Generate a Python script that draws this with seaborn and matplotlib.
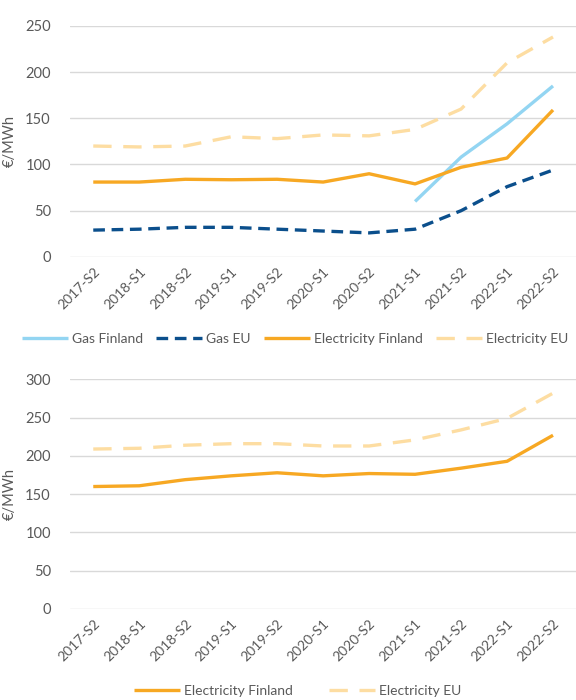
import numpy as np
import pandas as pd
import matplotlib
matplotlib.use("Agg")
import matplotlib.pyplot as plt
import seaborn as sns

periods = ["2017-S2", "2018-S1", "2018-S2", "2019-S1", "2019-S2", "2020-S1",
           "2020-S2", "2021-S1", "2021-S2", "2022-S1", "2022-S2"]

# top panel
gas_fi = [np.nan, np.nan, np.nan, np.nan, np.nan, np.nan, np.nan, 60, 108, 144, 185]
gas_eu = [29, 30, 32, 32, 30, 28, 26, 30, 50, 76, 94]
elec_fi = [81, 81, 84, 83.5, 84, 81, 90, 79, 97, 107, 159]
elec_eu = [120, 119, 120, 130, 128, 132, 131, 138, 160, 210, 238]

# bottom panel
elec_fi2 = [160, 161, 169, 174, 178, 174, 177, 176, 184, 193, 227]
elec_eu2 = [209, 210, 214, 216, 216, 213, 213, 221, 234, 249, 282]

colors = {"Gas Finland": "#93D5F2", "Gas EU": "#0B4F8C",
          "Electricity Finland": "#F7A823", "Electricity EU": "#FDDDA2"}
dashes = {"Gas Finland": "", "Gas EU": (3.5, 2.0),
          "Electricity Finland": "", "Electricity EU": (5.5, 3.5)}

sns.set_theme(style="white")
plt.rcParams["font.family"] = ["Lato", "DejaVu Sans"]
grey = "#595959"

fig = plt.figure(figsize=(5.76, 7), dpi=100)
ax1 = fig.add_axes([0.122, 0.633, 0.878, 0.33])
ax2 = fig.add_axes([0.122, 0.13, 0.878, 0.328])

x = np.arange(len(periods))


def draw(ax, series, ymax):
    for name, vals in series.items():
        sns.lineplot(x=x, y=vals, ax=ax, color=colors[name], linewidth=2.4,
                     label=name, dashes=False)
        line = ax.get_lines()[-1]
        if dashes[name]:
            line.set_dashes(dashes[name])
        line.set_solid_capstyle("butt")
        line.set_clip_on(False)
    ax.set_xlim(-0.5, len(periods) - 0.5)
    ax.set_ylim(0, ymax)
    ax.set_yticks(np.arange(0, ymax + 1, 50))
    ax.set_xticks(x)
    ax.set_xticklabels(periods, rotation=45, ha="right", rotation_mode="anchor")
    ax.grid(axis="y", color="#D9D9D9", linewidth=1)
    ax.set_axisbelow(True)
    sns.despine(ax=ax, left=True, bottom=True)
    ax.tick_params(axis="y", colors=grey, labelsize=10.5, length=0, pad=14)
    ax.tick_params(axis="x", colors=grey, labelsize=10, length=0, pad=6)
    ax.set_ylabel("€/MWh", color=grey, fontsize=10.5, labelpad=6)
    ax.set_xlabel("")


draw(ax1, {"Gas Finland": gas_fi, "Gas EU": gas_eu,
           "Electricity Finland": elec_fi, "Electricity EU": elec_eu}, 250)
ax1.legend(loc="upper center", bbox_to_anchor=(0.445, -0.275), ncol=4, frameon=False,
           fontsize=10, labelcolor=grey, handlelength=3.3, columnspacing=0.95,
           handletextpad=0.3)

draw(ax2, {"Electricity Finland": elec_fi2, "Electricity EU": elec_eu2}, 300)
ax2.legend(loc="upper center", bbox_to_anchor=(0.45, -0.275), ncol=2, frameon=False,
           fontsize=10, labelcolor=grey, handlelength=3.3, columnspacing=2.6,
           handletextpad=0.3)

fig.savefig("out.png", dpi=100)
